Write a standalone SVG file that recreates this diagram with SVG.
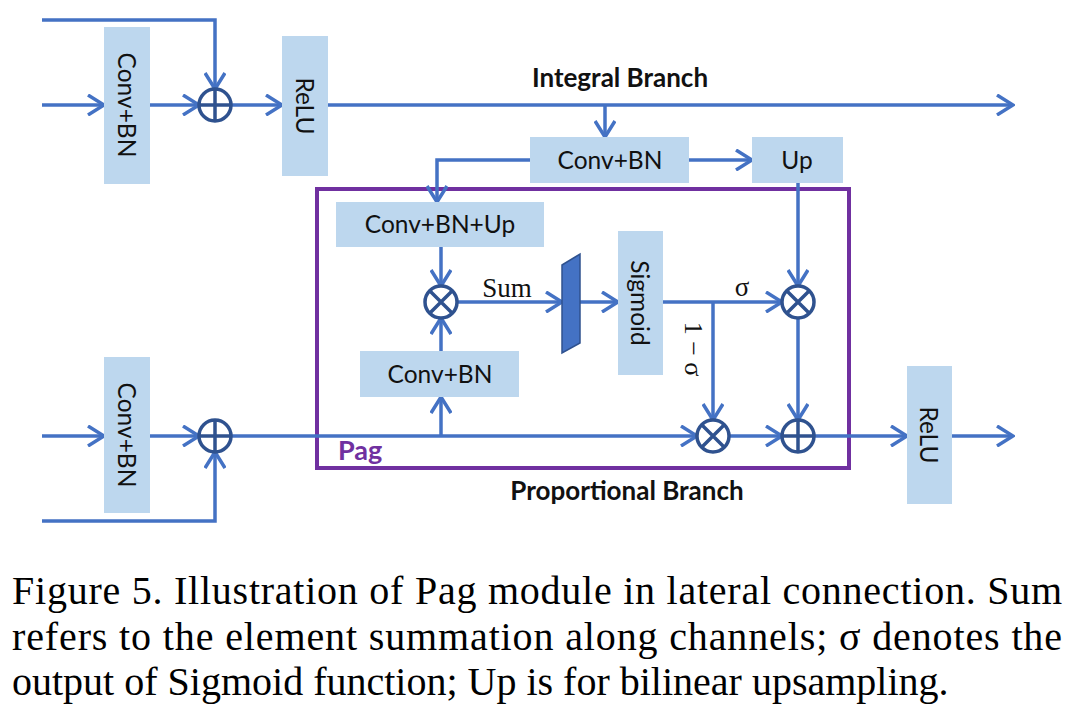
<svg xmlns="http://www.w3.org/2000/svg" width="1085" height="718" viewBox="0 0 1085 718">
<style>
.box{fill:#BDD7EE}
.lbl{font-family:Lato,"Liberation Sans",sans-serif;font-size:24.5px;fill:#111}
.bold{font-family:Lato,"Liberation Sans",sans-serif;font-size:26px;font-weight:bold;fill:#111}
.serif{font-family:"Liberation Serif",serif;fill:#111}
.wire{fill:none;stroke:#4472C4;stroke-width:3.5}
.arr{marker-end:url(#ah)}
.op{fill:#fff;stroke:#2F528F;stroke-width:3.5}
.cap{font-family:"Liberation Serif",serif;font-size:40px;fill:#000}
</style>
<defs>
<marker id="ah" viewBox="0 0 20 22" refX="18" refY="11" markerWidth="20" markerHeight="22" markerUnits="userSpaceOnUse" orient="auto">
<path d="M2,1 L18,11 L2,21" fill="none" stroke="#4472C4" stroke-width="3.5"/>
</marker>
</defs>
<rect width="1085" height="718" fill="#fff"/>
<g id="pag">
<rect x="317" y="189" width="532" height="279" fill="none" stroke="#7030A0" stroke-width="4"/>
<text x="338" y="460" font-family="Lato,'Liberation Sans',sans-serif" font-size="27" font-weight="bold" fill="#7030A0">Pag</text>
</g>
<g id="connectors">
<path class="wire arr" d="M42,105 H104"/>
<path class="wire arr" d="M42,20 H215 V89"/>
<path class="wire arr" d="M150,105 H199"/>
<path class="wire arr" d="M231,105 H282"/>
<path class="wire arr" d="M328,105 H1013"/>
<path class="wire arr" d="M605,105 V137"/>
<path class="wire arr" d="M689,160 H752"/>
<path class="wire arr" d="M530,160 H437 V202"/>
<path class="wire arr" d="M441,247 V286"/>
<path class="wire arr" d="M457,302 H562"/>
<path class="wire arr" d="M580,302 H618"/>
<path class="wire arr" d="M663,302 H782"/>
<path class="wire arr" d="M713,302 V420"/>
<path class="wire arr" d="M798,183 V286"/>
<path class="wire arr" d="M798,318 V420"/>
<path class="wire arr" d="M42,436 H104"/>
<path class="wire arr" d="M150,436 H199"/>
<path class="wire arr" d="M42,521 H215 V452"/>
<path class="wire arr" d="M231,436 H697"/>
<path class="wire arr" d="M441,436 V397"/>
<path class="wire arr" d="M441,351 V318"/>
<path class="wire arr" d="M729,436 H782"/>
<path class="wire arr" d="M814,436 H907"/>
<path class="wire arr" d="M952,436 H1013"/>
</g>
<g id="conv-top"><rect class="box" x="104" y="27" width="46" height="157"/><text class="lbl" transform="translate(127,105) rotate(90)" text-anchor="middle" dy="9">Conv+BN</text></g>
<g id="add-top"><circle class="op" cx="215" cy="105" r="16"/><path d="M199,105 H231 M215,89 V121" stroke="#2F528F" stroke-width="3.5"/></g>
<g id="relu-top"><rect class="box" x="282" y="36" width="46" height="140"/><text class="lbl" transform="translate(305,106) rotate(90)" text-anchor="middle" dy="9">ReLU</text></g>
<text class="bold" x="620" y="87" text-anchor="middle">Integral Branch</text>
<g id="conv-int"><rect class="box" x="530" y="137" width="159" height="46"/><text class="lbl" x="610" y="169" text-anchor="middle">Conv+BN</text></g>
<g id="up"><rect class="box" x="752" y="137" width="91" height="46"/><text class="lbl" x="797" y="169" text-anchor="middle">Up</text></g>
<g id="conv-bn-up"><rect class="box" x="336" y="202" width="208" height="45"/><text class="lbl" x="440" y="233" text-anchor="middle">Conv+BN+Up</text></g>
<g id="mul-sum"><circle class="op" cx="441" cy="302" r="16"/><path d="M429.7,290.7 L452.3,313.3 M452.3,290.7 L429.7,313.3" stroke="#2F528F" stroke-width="3.5"/></g>
<text class="serif" x="507" y="297" font-size="27" text-anchor="middle">Sum</text>
<g id="sum"><polygon points="562,265 580,254 580,343 562,353" fill="#4472C4" stroke="#2F528F" stroke-width="1.5"/></g>
<g id="sigmoid"><rect class="box" x="618" y="231" width="45" height="144"/><text class="lbl" transform="translate(640,303) rotate(90)" text-anchor="middle" dy="9">Sigmoid</text></g>
<text class="serif" x="742" y="296" font-size="27" text-anchor="middle">σ</text>
<text class="serif" transform="translate(693,349) rotate(90)" font-size="26" text-anchor="middle" dy="8">1 − σ</text>
<g id="mul-sigma"><circle class="op" cx="798" cy="302" r="16"/><path d="M786.7,290.7 L809.3,313.3 M809.3,290.7 L786.7,313.3" stroke="#2F528F" stroke-width="3.5"/></g>
<g id="conv-bot"><rect class="box" x="104" y="357" width="46" height="156"/><text class="lbl" transform="translate(127,435) rotate(90)" text-anchor="middle" dy="9">Conv+BN</text></g>
<g id="add-bot"><circle class="op" cx="215" cy="436" r="16"/><path d="M199,436 H231 M215,420 V452" stroke="#2F528F" stroke-width="3.5"/></g>
<g id="conv-prop"><rect class="box" x="360" y="351" width="159" height="46"/><text class="lbl" x="440" y="383" text-anchor="middle">Conv+BN</text></g>
<g id="mul-1s"><circle class="op" cx="713" cy="436" r="16"/><path d="M701.7,424.7 L724.3,447.3 M724.3,424.7 L701.7,447.3" stroke="#2F528F" stroke-width="3.5"/></g>
<g id="add-out"><circle class="op" cx="798" cy="436" r="16"/><path d="M782,436 H814 M798,420 V452" stroke="#2F528F" stroke-width="3.5"/></g>
<g id="relu-bot"><rect class="box" x="907" y="366" width="45" height="138"/><text class="lbl" transform="translate(929,435) rotate(90)" text-anchor="middle" dy="9">ReLU</text></g>
<text class="bold" x="627" y="500" text-anchor="middle">Proportional Branch</text>
<text class="cap" x="12" y="604" textLength="1050" lengthAdjust="spacing">Figure 5. Illustration of Pag module in lateral connection. Sum</text>
<text class="cap" x="12" y="650" textLength="1050" lengthAdjust="spacing">refers to the element summation along channels; σ denotes the</text>
<text class="cap" x="12" y="695">output of Sigmoid function; Up is for bilinear upsampling.</text>
</svg>
